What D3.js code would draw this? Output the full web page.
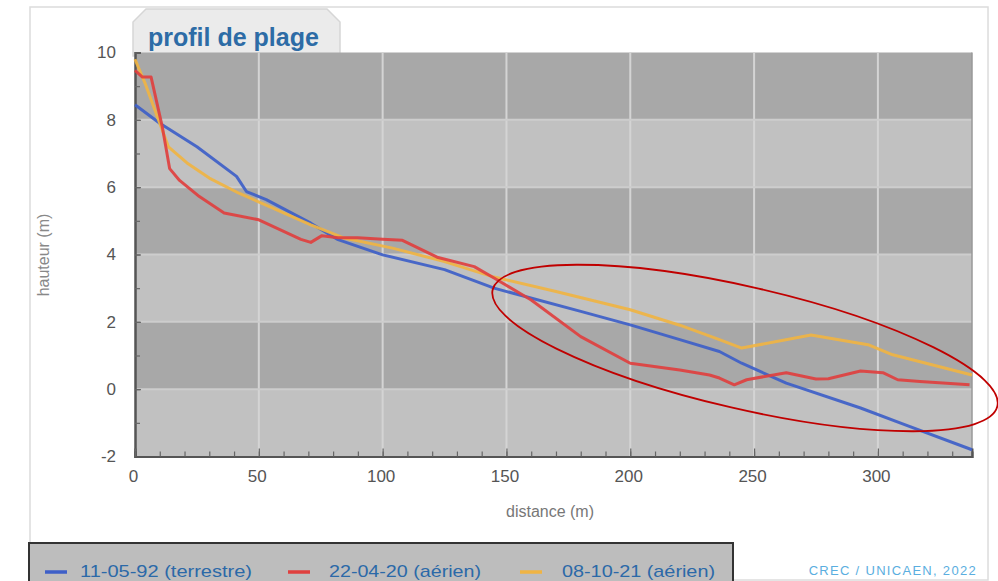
<!DOCTYPE html>
<html>
<head>
<meta charset="utf-8">
<script src="https://cdn.jsdelivr.net/npm/d3@7"></script>
<style>
body { margin:0; background:#fff; }
svg { display:block; font-family:"Liberation Sans", Arial, sans-serif; }
</style>
</head>
<body>
<svg id="chart" width="998" height="581"></svg>
<script>
// profil 1992 (terrestre)
var dist92 = [0, 10, 25, 41, 45, 53, 71, 82, 100, 125, 145, 180, 200, 220, 236, 245, 263, 293, 310, 338];
var haut92 = [8.45, 7.9, 7.2, 6.32, 5.87, 5.63, 4.93, 4.44, 3.99, 3.55, 3.0, 2.31, 1.91, 1.47, 1.12, 0.77, 0.18, -0.56, -1.03, -1.8];

// profil 2020 (aerien)
var dist20 = [0, 3, 6.5, 11, 14, 18, 26, 36, 50, 67, 71, 75.5, 82, 90, 100, 108, 122, 137, 145, 160, 180, 200, 220, 232, 236, 242, 247, 263, 275, 280, 293, 302, 308, 317, 337];
var haut20 = [9.47, 9.27, 9.27, 7.8, 6.55, 6.2, 5.72, 5.23, 5.03, 4.45, 4.36, 4.56, 4.5, 4.5, 4.45, 4.42, 3.92, 3.64, 3.3, 2.65, 1.56, 0.77, 0.57, 0.42, 0.33, 0.13, 0.28, 0.49, 0.3, 0.31, 0.54, 0.49, 0.28, 0.23, 0.13];

// profil 2021 (aerien)
var dist21 = [0, 4, 10, 13.5, 21, 30, 42, 55, 71, 84, 104, 125, 145, 170, 200, 220, 236, 245, 273, 296, 306, 338];
var haut21 = [9.8, 9.1, 7.9, 7.2, 6.72, 6.27, 5.82, 5.4, 4.88, 4.5, 4.19, 3.79, 3.33, 2.9, 2.36, 1.9, 1.47, 1.22, 1.61, 1.32, 1.02, 0.42];

var seriesNames = ["11-05-92 (terrestre)", "22-04-20 (aérien)", "08-10-21 (aérien)"];
var seriesColors = ["#3e5fc8", "#e0403f", "#f0b443"];

var xTicks = [0, 50, 100, 150, 200, 250, 300];
var yTicks = [-2, 0, 2, 4, 6, 8, 10];

var svg = d3.select("#chart");

var x = d3.scaleLinear().domain([0, 338]).range([135, 972]);
var y = d3.scaleLinear().domain([-2, 10]).range([456.5, 52.5]);

// outer frame
svg.append("rect")
.attr("x", 30).attr("y", 7)
.attr("width", 958).attr("height", 573)
.attr("fill", "#fff")
.attr("stroke", "#dcdcdc")
.attr("stroke-width", 1.5);

// title tab
svg.append("path")
.attr("d", "M133,56 L133,22 L146,9 L327,9 L340,22 L340,56 Z")
.attr("fill", "#ebebeb")
.attr("stroke", "#d6d6d6")
.attr("stroke-width", 1.5);

svg.append("text")
.attr("x", 148).attr("y", 46)
.attr("font-size", 25)
.attr("font-weight", "bold")
.attr("fill", "#2d6ca6")
.text("profil de plage");

// bands
var bands = d3.range(-2, 10, 2);
svg.selectAll("rect.band")
.data(bands)
.enter()
.append("rect")
.attr("class", "band")
.attr("x", x(0))
.attr("width", x(338) - x(0))
.attr("y", function(d){ return y(d + 2); })
.attr("height", function(d){ return y(d) - y(d + 2); })
.attr("fill", function(d){
    return (d / 2) % 2 == 0 ? "#a8a8a8" : "#c1c1c1";
});

// grid
svg.selectAll("line.vgrid")
.data(xTicks.slice(1))
.enter()
.append("line")
.attr("class", "vgrid")
.attr("x1", function(d){ return x(d); })
.attr("x2", function(d){ return x(d); })
.attr("y1", y(10)).attr("y2", y(-2))
.attr("stroke", "#d4d4d4")
.attr("stroke-width", 2);

svg.selectAll("line.hgrid")
.data([0, 2, 4, 6, 8])
.enter()
.append("line")
.attr("class", "hgrid")
.attr("x1", x(0)).attr("x2", x(338))
.attr("y1", function(d){ return y(d); })
.attr("y2", function(d){ return y(d); })
.attr("stroke", "#cdcdcd")
.attr("stroke-width", 2);

svg.append("line")
.attr("x1", x(338)).attr("x2", x(338))
.attr("y1", y(10)).attr("y2", y(-2))
.attr("stroke", "#999")
.attr("stroke-width", 1.5);

// axes
var plainNum = function(d){ return String(d); };

var yAxis = svg.append("g")
.attr("transform", "translate(" + x(0) + ",0)")
.call(d3.axisLeft(y).tickValues(yTicks).tickSize(-6).tickPadding(19).tickFormat(plainNum));

var yMinor = svg.append("g")
.attr("transform", "translate(" + x(0) + ",0)")
.call(d3.axisLeft(y).tickValues(d3.range(-2, 11, 1)).tickSize(-5).tickFormat(""));

var xAxis = svg.append("g")
.attr("transform", "translate(0," + y(-2) + ")")
.call(d3.axisBottom(x).tickValues(xTicks).tickSize(-8).tickPadding(13).tickFormat(plainNum));

var xMinor = svg.append("g")
.attr("transform", "translate(0," + y(-2) + ")")
.call(d3.axisBottom(x).tickValues(d3.range(0, 339, 10)).tickSize(-5).tickFormat(""));

[yAxis, yMinor, xAxis, xMinor].forEach(function(g){
    g.select(".domain").attr("stroke", "#555").attr("stroke-width", 2);
    g.selectAll(".tick line").attr("stroke", "#666").attr("stroke-width", 1.2);
    g.selectAll(".tick text")
    .attr("font-family", "Liberation Sans, Arial, sans-serif")
    .attr("font-size", 17)
    .attr("fill", "#555");
});
xAxis.selectAll(".tick text").attr("dx", -2);

svg.append("text")
.attr("transform", "translate(49,255) rotate(-90)")
.attr("text-anchor", "middle")
.attr("font-size", 16)
.attr("fill", "#888")
.text("hauteur (m)");

svg.append("text")
.attr("x", 550).attr("y", 517)
.attr("text-anchor", "middle")
.attr("font-size", 16)
.attr("fill", "#777")
.text("distance (m)");

// profiles
var line = d3.line()
.x(function(d){ return x(d[0]); })
.y(function(d){ return y(d[1]); });

var profiles = [d3.zip(dist92, haut92), d3.zip(dist20, haut20), d3.zip(dist21, haut21)];
var drawOrder = [0, 2, 1];

drawOrder.forEach(function(k){
    svg.append("path")
    .datum(profiles[k])
    .attr("d", line)
    .attr("fill", "none")
    .attr("stroke", seriesColors[k])
    .attr("stroke-width", 3)
    .attr("stroke-linejoin", "round")
    .attr("stroke-opacity", 0.92);
});

// annotation ellipse
svg.append("ellipse")
.attr("cx", 745).attr("cy", 348)
.attr("rx", 259).attr("ry", 61)
.attr("transform", "rotate(13,745,348)")
.attr("fill", "none")
.attr("stroke", "#c00000")
.attr("stroke-width", 1.8);

// legend
svg.append("rect")
.attr("x", 29).attr("y", 543)
.attr("width", 704).attr("height", 60)
.attr("fill", "#bdbdbd")
.attr("stroke", "#333")
.attr("stroke-width", 2);

var legendX = [45, 288, 520];
var legendW = [172, 152, 153];
var legend = svg.selectAll("g.leg")
.data(seriesNames)
.enter()
.append("g")
.attr("class", "leg")
.attr("transform", function(d, i){ return "translate(" + legendX[i] + ",572)"; });

legend.append("line")
.attr("x1", 0).attr("x2", 22)
.attr("stroke", function(d, i){ return seriesColors[i]; })
.attr("stroke-width", 3.5);

legend.append("text")
.attr("x", function(d, i){ return [35, 41, 42][i]; })
.attr("y", 5)
.attr("font-size", 17)
.attr("textLength", function(d, i){ return legendW[i]; })
.attr("lengthAdjust", "spacingAndGlyphs")
.attr("fill", "#2b69a8")
.text(function(d){ return d; });

svg.append("text")
.attr("x", 977).attr("y", 575)
.attr("text-anchor", "end")
.attr("font-size", 13)
.attr("letter-spacing", 1.3)
.attr("fill", "#5aaee0")
.text("CREC / UNICAEN, 2022");
</script>
</body>
</html>
